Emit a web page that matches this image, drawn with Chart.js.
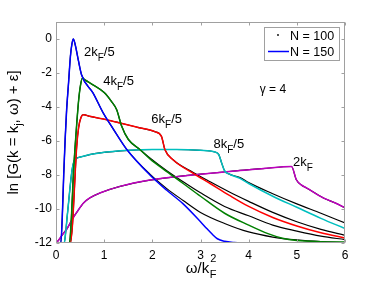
<!DOCTYPE html>
<html>
<head>
<meta charset="utf-8">
<script src="https://cdn.jsdelivr.net/npm/chart.js@4/dist/chart.umd.min.js"></script>
<style>
  html, body { margin: 0; padding: 0; background: #fff; }
  #wrap { width: 382px; height: 286px; }
</style>
</head>
<body>
<div id="wrap"><canvas id="chart" width="382" height="286"></canvas></div>
<script>
// ln G(k = k_j, omega) + eps, gamma = 4 — N = 150 coloured, N = 100 black
const FONT = '"Liberation Sans", Arial, sans-serif';

const xTicks = [0, 1, 2, 3, 4, 5, 6];
const yTicks = [-12, -10, -8, -6, -4, -2, 0];

// N = 150
const x2 = [0, 0.1, 0.13, 0.16, 0.19, 0.22, 0.26, 0.3, 0.33, 0.36, 0.4, 0.46, 0.53, 0.77, 0.98, 1.19, 1.47, 1.95, 2.3, 2.64, 3.0, 3.13, 3.25, 3.35, 3.5, 3.7, 4, 5, 6];
const y2 = [-12, -12, -10.5, -8, -5.9, -4.2, -2.6, -1.0, -0.3, 0, -0.35, -1.2, -2.1, -3.18, -4.35, -5.3, -6.5, -8.0, -8.9, -9.7, -10.75, -11.15, -11.5, -11.75, -11.9, -11.97, -12, -12, -12];

const x4 = [0, 0.28, 0.32, 0.36, 0.4, 0.43, 0.47, 0.51, 0.55, 0.6, 0.77, 1.0, 1.15, 1.26, 1.36, 1.5, 1.74, 1.95, 2.3, 2.64, 3.0, 3.5, 4.0, 4.4, 4.7, 5.0, 5.5, 6];
const y4 = [-12, -12, -10.5, -8, -6.2, -5.0, -3.6, -2.7, -2.3, -2.4, -2.7, -3.15, -3.67, -4.16, -5.1, -5.9, -6.5, -7.05, -7.8, -8.5, -9.25, -10.25, -10.95, -11.45, -11.72, -11.85, -11.92, -11.94];

const x6 = [0, 0.3, 0.34, 0.37, 0.4, 0.43, 0.47, 0.52, 0.57, 0.7, 1.05, 1.33, 1.7, 2.05, 2.19, 2.26, 2.43, 2.85, 3.2, 3.6, 4.0, 4.5, 5.0, 5.5, 6];
const y6 = [-12, -12, -11, -9.5, -7.8, -6.3, -5.2, -4.6, -4.45, -4.55, -4.75, -4.94, -5.2, -5.45, -5.73, -6.5, -7.1, -7.9, -8.5, -9.2, -9.85, -10.5, -11.0, -11.4, -11.7];

const x8 = [0, 0.17, 0.2, 0.23, 0.26, 0.3, 0.34, 0.39, 0.5, 0.7, 0.91, 1.5, 2.0, 2.5, 3.0, 3.3, 3.38, 3.44, 3.5, 3.6, 3.82, 4.0, 4.5, 5.0, 5.5, 6];
const y8 = [-12, -12, -11.4, -10.5, -9.65, -8.5, -7.6, -7.1, -6.95, -6.8, -6.7, -6.55, -6.5, -6.5, -6.55, -6.65, -6.8, -7.3, -7.75, -7.95, -8.2, -8.5, -9.25, -9.9, -10.55, -11.15];

const x10 = [0, 0.05, 0.1, 0.15, 0.22, 0.3, 0.36, 0.43, 0.57, 0.7, 0.91, 1.33, 1.95, 2.5, 3.0, 3.4, 3.82, 4.3, 4.89, 4.99, 5.1, 5.2, 5.55, 5.8, 6];
const y10 = [-12, -11.85, -11.65, -11.45, -11.2, -10.8, -10.5, -10.2, -9.65, -9.35, -9.06, -8.67, -8.3, -8.1, -7.95, -7.85, -7.73, -7.62, -7.5, -8.28, -8.6, -8.76, -9.35, -9.65, -9.93];

// N = 100 (tails sit above the N = 150 curves)
const b2x = [0, 0.1, 0.13, 0.16, 0.19, 0.22, 0.26, 0.3, 0.33, 0.36, 0.4, 0.46, 0.53, 0.77, 0.98, 1.19, 1.47, 1.95, 2.3, 2.64, 3.0, 3.5, 4.0, 4.5, 5.0, 5.5, 6];
const b2y = [-12, -12, -10.5, -8, -5.9, -4.2, -2.6, -1.0, -0.3, 0, -0.35, -1.2, -2.1, -3.18, -4.35, -5.3, -6.5, -7.95, -8.8, -9.5, -10.2, -10.85, -11.35, -11.65, -11.82, -11.92, -11.97];

const b4x = [0, 0.28, 0.32, 0.36, 0.4, 0.43, 0.47, 0.51, 0.55, 0.6, 0.77, 1.0, 1.15, 1.26, 1.36, 1.5, 1.74, 1.95, 2.3, 2.64, 3.0, 3.5, 4.0, 4.5, 5.0, 5.5, 6];
const b4y = [-12, -12, -10.5, -8, -6.2, -5.0, -3.6, -2.7, -2.3, -2.4, -2.7, -3.15, -3.67, -4.16, -5.1, -5.9, -6.5, -7.0, -7.75, -8.4, -9.05, -9.85, -10.4, -10.95, -11.3, -11.6, -11.8];

const b6x = [0, 0.3, 0.34, 0.37, 0.4, 0.43, 0.47, 0.52, 0.57, 0.7, 1.05, 1.33, 1.7, 2.05, 2.19, 2.26, 2.43, 2.85, 3.2, 3.6, 4.0, 4.5, 5.0, 5.5, 6];
const b6y = [-12, -12, -11, -9.5, -7.8, -6.3, -5.2, -4.6, -4.45, -4.55, -4.75, -4.94, -5.2, -5.45, -5.73, -6.5, -7.1, -7.85, -8.4, -9.0, -9.55, -10.2, -10.75, -11.2, -11.55];

const b8x = [0, 0.17, 0.2, 0.23, 0.26, 0.3, 0.34, 0.39, 0.5, 0.7, 0.91, 1.5, 2.0, 2.5, 3.0, 3.3, 3.38, 3.44, 3.5, 3.6, 3.82, 4.0, 4.5, 5.0, 5.5, 6];
const b8y = [-12, -12, -11.4, -10.5, -9.65, -8.5, -7.6, -7.1, -6.95, -6.8, -6.7, -6.55, -6.5, -6.5, -6.55, -6.65, -6.8, -7.3, -7.75, -7.95, -8.15, -8.45, -9.1, -9.7, -10.25, -10.82];

const b10x = x10;
const b10y = y10;

const curveNames = ['2k_F/5', '4k_F/5', '6k_F/5', '8k_F/5', '2k_F'];
const curveColors = ['#0000ff', '#008000', '#ff0000', '#00bfbf', '#bf00bf'];
const labelX = [0.58, 0.98, 1.98, 3.27, 4.92];
const labelY = [-0.98, -2.72, -4.92, -6.42, -7.45];

function pts(xs, ys) { return xs.map((x, i) => ({ x: x, y: ys[i] })); }

const n150 = [[x2, y2], [x4, y4], [x6, y6], [x8, y8], [x10, y10]];
const n100 = [[b2x, b2y], [b4x, b4y], [b6x, b6y], [b8x, b8y], [b10x, b10y]];

const datasets = [];
n150.forEach(function(s, i) {
  datasets.push({ label: 'N = 150 ' + curveNames[i], data: pts(s[0], s[1]), borderColor: curveColors[i], borderWidth: 1.5, pointRadius: 0, cubicInterpolationMode: 'monotone', order: 0 });
});
n100.forEach(function(s, i) {
  datasets.push({ label: 'N = 100 ' + curveNames[i], data: pts(s[0], s[1]), borderColor: '#000000', borderWidth: 1.2, pointRadius: 0, cubicInterpolationMode: 'monotone', order: 1 });
});

// draw text pieces along a baseline; dy shifts subscripts
function drawParts(ctx, parts, x, y, align) {
  let w = 0;
  parts.forEach(function(p) { ctx.font = p.size + 'px ' + FONT; p.w = ctx.measureText(p.t).width; w += p.w; });
  let cx = align === 'center' ? x - w / 2 : x;
  ctx.textAlign = 'left';
  ctx.textBaseline = 'alphabetic';
  parts.forEach(function(p) {
    ctx.font = p.size + 'px ' + FONT;
    ctx.fillText(p.t, cx, y + (p.dy || 0));
    cx += p.w;
  });
}

function nameParts(name, size) {
  const bits = name.split('_F');
  return [{ t: bits[0], size: size }, { t: 'F', size: size - 3, dy: 5 }, { t: bits[1], size: size }];
}

const overlay = {
  id: 'overlay',
  afterDraw(chart) {
    const ctx = chart.ctx, a = chart.chartArea, xs = chart.scales.x, ys = chart.scales.y;
    const L = Math.round(a.left) + 0.5, R = Math.round(a.right) - 0.5, T = Math.round(a.top) + 0.5, B = Math.round(a.bottom) - 0.5;
    ctx.save();
    ctx.strokeStyle = '#a0a0a0';
    ctx.lineWidth = 1;
    ctx.strokeRect(L, T, R - L, B - T);
    ctx.beginPath();
    xTicks.forEach(function(v) {
      const px = Math.round(xs.getPixelForValue(v)) + 0.5;
      ctx.moveTo(px, B); ctx.lineTo(px, B - 3);
      ctx.moveTo(px, T); ctx.lineTo(px, T + 3);
    });
    yTicks.forEach(function(v) {
      const py = Math.round(ys.getPixelForValue(v)) + 0.5;
      ctx.moveTo(L, py); ctx.lineTo(L + 3, py);
      ctx.moveTo(R, py); ctx.lineTo(R - 3, py);
    });
    ctx.stroke();

    ctx.fillStyle = '#000';
    // curve labels
    curveNames.forEach(function(n, i) {
      drawParts(ctx, nameParts(n, 13), xs.getPixelForValue(labelX[i]), ys.getPixelForValue(labelY[i]), 'left');
    });
    // gamma
    drawParts(ctx, [{ t: 'γ = 4', size: 12 }], xs.getPixelForValue(4.23), ys.getPixelForValue(-3.2), 'left');

    // legend
    ctx.strokeStyle = '#a0a0a0';
    ctx.strokeRect(264.5, 27.5, 75, 33);
    ctx.fillStyle = '#000';
    ctx.beginPath(); ctx.arc(278, 35, 0.9, 0, Math.PI * 2); ctx.fill();
    ctx.strokeStyle = curveColors[0]; ctx.lineWidth = 1.5;
    ctx.beginPath(); ctx.moveTo(268, 51.5); ctx.lineTo(289, 51.5); ctx.stroke();
    drawParts(ctx, [{ t: 'N = 100', size: 12.5 }], 290, 39.5, 'left');
    drawParts(ctx, [{ t: 'N = 150', size: 12.5 }], 290, 56, 'left');

    // x title
    const cx = (a.left + a.right) / 2;
    ctx.font = '15px ' + FONT;
    const w1 = ctx.measureText('ω/k').width;
    ctx.font = '11px ' + FONT;
    const w2 = ctx.measureText('2').width;
    const sx = cx - (w1 + w2) / 2;
    ctx.textAlign = 'left';
    ctx.font = '15px ' + FONT;
    ctx.fillText('ω/k', sx, 273);
    ctx.font = '11px ' + FONT;
    ctx.fillText('2', sx + w1 + 1, 262);
    ctx.fillText('F', sx + w1 + 0.5, 278);

    // y title
    ctx.translate(18, (a.top + a.bottom) / 2);
    ctx.rotate(-Math.PI / 2);
    drawParts(ctx, [{ t: 'ln [G(k = k', size: 15 }, { t: 'j', size: 11, dy: 4 }, { t: ', ω) + ε]', size: 15 }], 0, 0, 'center');
    ctx.restore();
  }
};

new Chart(document.getElementById('chart').getContext('2d'), {
  type: 'line',
  data: { datasets: datasets },
  options: {
    responsive: false,
    animation: false,
    layout: { padding: { left: 0, top: 22, right: 37, bottom: 0 } },
    plugins: { legend: { display: false }, tooltip: { enabled: false } },
    scales: {
      x: {
        type: 'linear', min: 0, max: 6,
        afterBuildTicks: s => { s.ticks = xTicks.map(v => ({ value: v })); },
        afterFit: s => { s.height = 43; },
        grid: { display: false, drawTicks: false },
        border: { display: false },
        ticks: { padding: 5, color: '#000', font: { family: FONT, size: 12 }, maxRotation: 0 }
      },
      y: {
        type: 'linear', min: -12, max: 1,
        afterBuildTicks: s => { s.ticks = yTicks.map(v => ({ value: v })); },
        afterFit: s => { s.width = 56; },
        grid: { display: false, drawTicks: false },
        border: { display: false },
        ticks: { padding: 4, color: '#000', font: { family: FONT, size: 12 } }
      }
    }
  },
  plugins: [overlay]
});
</script>
</body>
</html>
